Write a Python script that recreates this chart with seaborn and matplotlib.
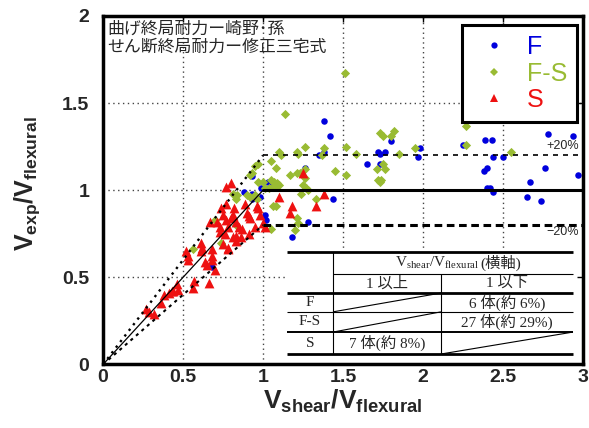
import pandas as pd
import seaborn as sns
import matplotlib.pyplot as plt
from matplotlib.patches import Rectangle
from matplotlib.lines import Line2D

# ---- data ----
f_x = [1.38, 1.42, 1.38, 1.35, 1.72, 1.73, 1.76, 1.80, 1.98, 1.97, 1.65, 1.73,
       1.26, 1.44, 1.28, 1.18, 2.25, 2.39, 2.43, 2.44, 2.50, 2.78, 2.94, 2.40,
       2.38, 2.76, 2.97, 2.67, 2.40, 2.42, 2.44, 2.65, 2.74, 0.93, 1.03, 1.06,
       0.99, 0.88, 0.93, 0.93, 0.98, 1.01, 1.02, 0.68]
f_y = [1.40, 1.31, 1.22, 1.20, 1.22, 1.21, 1.22, 1.28, 1.24, 1.19, 1.15, 1.15,
       1.13, 0.95, 0.82, 0.73, 1.26, 1.29, 1.29, 1.19, 1.19, 1.32, 1.31, 1.13,
       1.11, 1.13, 1.09, 1.05, 1.01, 1.01, 0.99, 0.96, 0.94, 1.08, 1.05, 1.04,
       1.01, 0.99, 0.98, 0.95, 0.96, 0.86, 0.83, 0.56]

fs_x = [1.51, 1.14, 1.21, 1.22, 1.26, 1.38, 1.37, 1.52, 1.58, 1.73, 1.75, 1.82,
        1.80, 1.85, 1.95, 1.75, 1.71, 1.76, 1.72, 1.73, 1.74, 1.45, 1.52, 1.26,
        1.17, 1.21, 1.23, 1.26, 1.25, 1.27, 1.28, 1.24, 1.33, 1.21, 1.22, 1.20,
        2.27, 2.27, 2.55, 1.10, 1.11, 1.05, 0.97, 0.95, 1.08, 0.93, 0.92, 0.97,
        1.00, 1.05, 1.07, 1.09, 1.10, 1.08, 1.06, 1.04, 1.01, 0.81, 0.84, 0.83,
        0.90, 0.92, 0.95, 0.96, 1.06, 1.08, 1.05, 0.70, 0.74, 0.56, 0.83]
fs_y = [1.67, 1.44, 1.22, 1.21, 1.25, 1.24, 1.20, 1.25, 1.21, 1.33, 1.31, 1.34,
        1.31, 1.21, 1.24, 1.15, 1.12, 1.12, 1.06, 1.05, 1.06, 1.11, 1.09, 1.12,
        1.09, 1.10, 1.10, 1.07, 1.03, 1.01, 1.00, 0.98, 0.95, 0.84, 0.81, 0.77,
        1.37, 1.26, 1.22, 1.22, 1.20, 1.17, 1.15, 1.14, 1.13, 1.10, 1.09, 1.05,
        1.05, 1.06, 1.05, 1.04, 1.03, 1.02, 1.02, 1.01, 1.01, 0.98, 0.97, 0.95,
        0.97, 0.96, 0.97, 0.95, 0.91, 0.91, 0.78, 0.83, 0.70, 0.66, 0.80]

s_x = [1.25, 1.38, 1.18, 1.33, 1.17, 1.10, 0.80, 0.77, 0.77, 0.82, 0.74, 0.89,
       0.90, 0.91, 0.92, 0.96, 0.97, 0.98, 1.00, 1.01, 0.95, 0.81, 0.80, 0.83,
       0.75, 0.77, 0.78, 0.67, 0.71, 0.73, 0.85, 0.87, 0.73, 0.76, 0.81, 0.83,
       0.86, 0.91, 0.61, 0.62, 0.75, 0.78, 0.83, 0.78, 0.61, 0.68, 0.68, 0.68,
       0.53, 0.53, 0.52, 0.64, 0.65, 0.70, 0.57, 0.66, 0.56, 0.46, 0.47, 0.44,
       0.43, 0.41, 0.38, 0.36, 0.27, 0.29, 0.32]
s_y = [1.10, 0.98, 0.91, 0.91, 0.87, 0.96, 1.04, 1.02, 0.92, 0.90, 0.90, 0.92,
       0.87, 0.85, 0.84, 0.91, 0.90, 0.86, 0.81, 0.79, 0.79, 0.86, 0.84, 0.82,
       0.86, 0.83, 0.79, 0.82, 0.82, 0.79, 0.79, 0.78, 0.76, 0.75, 0.73, 0.74,
       0.73, 0.75, 0.70, 0.67, 0.69, 0.67, 0.71, 0.66, 0.65, 0.66, 0.62, 0.60,
       0.62, 0.60, 0.65, 0.59, 0.57, 0.54, 0.48, 0.47, 0.44, 0.46, 0.43, 0.42,
       0.42, 0.41, 0.40, 0.35, 0.32, 0.30, 0.29]

groups = ['F', 'F-S', 'S']
colors = {'F': '#0000dd', 'F-S': '#99bb33', 'S': '#ee1111'}
markers = {'F': 'o', 'F-S': 'D', 'S': '^'}
sizes = {'F': 22, 'F-S': 22, 'S': 50}

bands = [0.8, 1.0, 1.2]

note_lines = ['曲げ終局耐力ー崎野･孫', 'せん断終局耐力ー修正三宅式']

table_header = r'$\mathrm{V_{shear}/V_{flexural}}$'
table_header_jp = '(横軸)'
table_cols = ['1 以上', '1 以下']
table_rows = ['F', 'F-S', 'S']
table_cells = [['', '6 体(約 6%)'], ['', '27 体(約 29%)'], ['7 体(約 8%)', '']]

df = pd.concat([
    pd.DataFrame({'ratio': f_x, 'exp': f_y, 'type': 'F'}),
    pd.DataFrame({'ratio': fs_x, 'exp': fs_y, 'type': 'F-S'}),
    pd.DataFrame({'ratio': s_x, 'exp': s_y, 'type': 'S'}),
])

sns.set_theme(style='white')
plt.rcParams['font.family'] = ['Liberation Sans', 'Noto Sans CJK JP']
plt.rcParams['mathtext.fontset'] = 'custom'
plt.rcParams['mathtext.rm'] = 'Liberation Serif'
plt.rcParams['mathtext.bf'] = 'Liberation Sans:bold'

fig = plt.figure(figsize=(5.89, 4.28), dpi=100)
ax = fig.add_axes([0.1749, 0.1484, 0.815, 0.8143])
ax.set_axisbelow(False)

for t in groups:
    sns.scatterplot(
        data=df[df['type'] == t],
        x='ratio',
        y='exp',
        color=colors[t],
        marker=markers[t],
        s=sizes[t],
        linewidth=0,
        zorder=1.5,
        ax=ax,
    )

# grid drawn by hand so the table can cover it
for gx in [0.5, 1.0, 1.5, 2.0, 2.5]:
    ax.axvline(gx, color='#444444', ls=(0, (1, 2.5)), lw=1.0, zorder=1)
for gy in [0.5, 1.0, 1.5]:
    ax.axhline(gy, color='#444444', ls=(0, (1, 2.5)), lw=1.0, zorder=1)

# reference lines
lo, mid, hi = bands
ax.plot([0, 1], [0, mid], color='black', lw=0.9, zorder=1.6)
ax.plot([1, 3], [mid, mid], color='black', lw=2.2, zorder=1.6)
ax.plot([0, 1], [0, hi], color='black', ls=(0, (1, 2)), lw=1.7, zorder=1.6)
ax.plot([1, 3], [hi, hi], color='black', ls=(0, (3, 3)), lw=1.2, zorder=1.6)
ax.plot([0, 1], [0, lo], color='black', ls=(0, (1.5, 2)), lw=1.5, zorder=1.6)
ax.plot([1, 3], [lo, lo], color='black', ls=(0, (2.5, 1.5)), lw=2.2, zorder=1.6)
ax.text(2.87, 1.254, '+20%', fontsize=9, ha='center', va='center')
ax.text(2.87, 0.76, '−20%', fontsize=9, ha='center', va='center')

ax.set_xlim(0, 3)
ax.set_ylim(0, 2)
ax.set_xticks([0, 0.5, 1, 1.5, 2, 2.5, 3])
ax.set_xticklabels(['0', '0.5', '1', '1.5', '2', '2.5', '3'])
ax.set_yticks([0, 0.5, 1, 1.5, 2])
ax.set_yticklabels(['0', '0.5', '1', '1.5', '2'])
ax.tick_params(direction='in', length=4, width=1, top=True, right=True,
               labelsize=14, color='black')
ax.tick_params(axis='x', pad=3.5)
ax.tick_params(axis='y', pad=10)
for lab in ax.get_xticklabels() + ax.get_yticklabels():
    lab.set_fontweight('bold')
for sp in ax.spines.values():
    sp.set_linewidth(2.5)
    sp.set_color('black')

ax.set_xlabel(r'$\mathbf{V_{shear}/V_{flexural}}$', fontsize=19, labelpad=1)
ax.set_ylabel(r'$\mathbf{V_{exp}/V_{flexural}}$', fontsize=18)
ax.yaxis.set_label_coords(-0.128, 0.52)

ax.text(0.008, 0.949, note_lines[0], transform=ax.transAxes, fontsize=12.2,
        va='baseline', ha='left', family=['Noto Sans CJK JP'])
ax.text(0.008, 0.897, note_lines[1], transform=ax.transAxes, fontsize=12.2,
        va='baseline', ha='left', family=['Noto Sans CJK JP'])

# legend
handles = [Line2D([], [], ls='none', marker=markers[t], color=colors[t],
                  markersize=4.5 if t != 'S' else 5.5, markeredgewidth=0)
           for t in groups]
leg = ax.legend(handles, groups, loc='upper right', bbox_to_anchor=(0.9875, 0.974),
                fontsize=18, frameon=True, fancybox=False, edgecolor='black',
                framealpha=1, handlelength=1.8, handletextpad=0.4,
                borderpad=0.4, labelspacing=0.1, borderaxespad=0)
leg.get_frame().set_linewidth(2.2)
for txt, t in zip(leg.get_texts(), groups):
    txt.set_color(colors[t])

# table in the lower right
tx0, tx1, tx2, tx3 = 0.383, 0.479, 0.704, 0.979
ty = [0.323, 0.260, 0.205, 0.151, 0.093, 0.030]
ax.add_patch(Rectangle((tx0, 0), 1 - tx0, ty[0] + 0.003, transform=ax.transAxes,
                       facecolor='white', edgecolor='none', zorder=2))
tk = dict(transform=ax.transAxes, color='black', zorder=2.2, solid_capstyle='butt')
ax.plot([tx0, tx3], [ty[0]] * 2, lw=2, **tk)
ax.plot([tx1, tx3], [ty[1]] * 2, lw=0.8, **tk)
ax.plot([tx0, tx3], [ty[2]] * 2, lw=2, **tk)
ax.plot([tx0, tx3], [ty[3]] * 2, lw=0.8, **tk)
ax.plot([tx0, tx3], [ty[4]] * 2, lw=1.4, **tk)
ax.plot([tx0, tx3], [ty[5]] * 2, lw=2, **tk)
ax.plot([tx1, tx1], [ty[5], ty[0]], lw=0.8, **tk)
ax.plot([tx2, tx2], [ty[5], ty[1]], lw=0.8, **tk)
ax.plot([tx1, tx2], [ty[3], ty[2]], lw=0.8, **tk)
ax.plot([tx1, tx2], [ty[4], ty[3]], lw=0.8, **tk)
ax.plot([tx2, tx3], [ty[5], ty[4]], lw=0.8, **tk)

tt = dict(transform=ax.transAxes, fontsize=11, va='center', zorder=2.3,
          family=['Liberation Serif', 'Noto Sans CJK JP'])
hy = (ty[0] + ty[1]) / 2
ax.text(0.785, hy, table_header, ha='right', **tt)
ax.text(0.787, hy, table_header_jp, ha='left', **tt)
ax.text((tx1 + tx2) / 2, (ty[1] + ty[2]) / 2, table_cols[0], ha='center', **tt)
ax.text((tx2 + tx3) / 2, (ty[1] + ty[2]) / 2, table_cols[1], ha='center', **tt)
for i, row in enumerate(table_rows):
    yc = (ty[i + 2] + ty[i + 3]) / 2
    ax.text((tx0 + tx1) / 2, yc, row, ha='center', **tt)
    ax.text((tx1 + tx2) / 2, yc, table_cells[i][0], ha='center', **tt)
    ax.text((tx2 + tx3) / 2, yc, table_cells[i][1], ha='center', **tt)

plt.savefig('out.png', dpi=100)
